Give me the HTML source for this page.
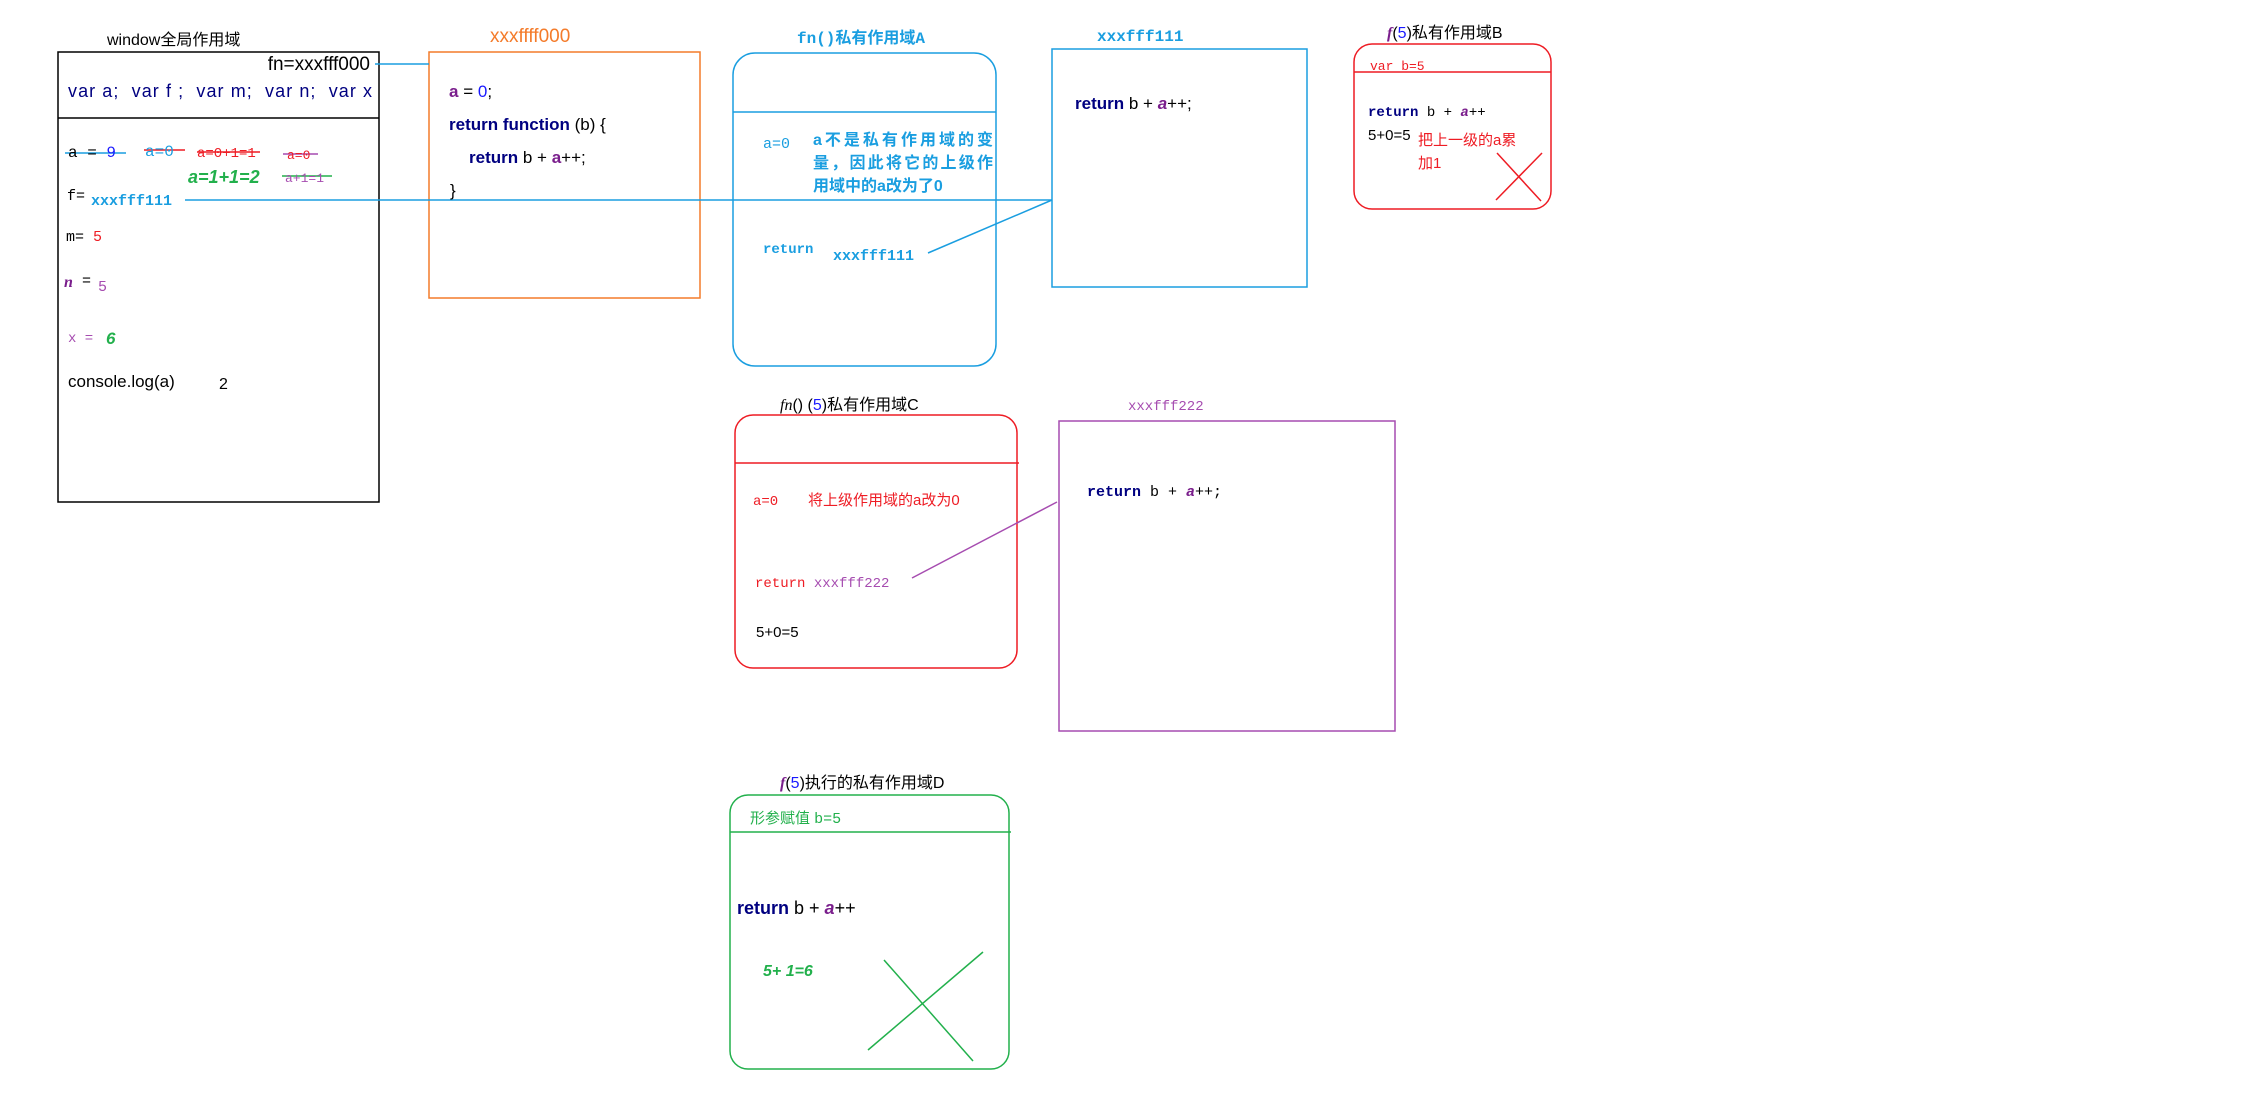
<!DOCTYPE html>
<html><head><meta charset="utf-8"><style>
html,body{margin:0;padding:0;background:#fff;width:2248px;height:1112px;overflow:hidden}
svg{display:block}
text{font-family:"Liberation Sans","Noto Sans CJK SC",sans-serif}
.m{font-family:"Liberation Mono","Noto Sans CJK SC",monospace}
.s{font-family:"Liberation Serif","Noto Serif CJK SC",serif}
</style></head><body>
<svg width="2248" height="1112" viewBox="0 0 2248 1112" xmlns="http://www.w3.org/2000/svg">
<g fill="none" stroke-width="1.5">
<rect x="58" y="52" width="321" height="450" stroke="#000"/>
<line x1="58" y1="118" x2="379" y2="118" stroke="#000"/>
<rect x="429" y="52" width="271" height="246" stroke="#f47b2a"/>
<rect x="733" y="53" width="263" height="313" rx="22" stroke="#1a9ee0"/>
<line x1="733" y1="112" x2="996" y2="112" stroke="#1a9ee0"/>
<rect x="1052" y="49" width="255" height="238" stroke="#1a9ee0"/>
<rect x="1354" y="44" width="197" height="165" rx="18" stroke="#ee1c24"/>
<line x1="1354" y1="72" x2="1551" y2="72" stroke="#ee1c24"/>
<line x1="1497" y1="153" x2="1541" y2="201" stroke="#ee1c24"/>
<line x1="1542" y1="153" x2="1496" y2="200" stroke="#ee1c24"/>
<rect x="735" y="415" width="282" height="253" rx="18" stroke="#ee1c24"/>
<line x1="735" y1="463" x2="1019" y2="463" stroke="#ee1c24"/>
<rect x="1059" y="421" width="336" height="310" stroke="#a64cb0"/>
<rect x="730" y="795" width="279" height="274" rx="18" stroke="#22b04c"/>
<line x1="730" y1="832" x2="1011" y2="832" stroke="#22b04c"/>
<line x1="884" y1="960" x2="973" y2="1061" stroke="#22b04c"/>
<line x1="983" y1="952" x2="868" y2="1050" stroke="#22b04c"/>
<line x1="375" y1="64" x2="429" y2="64" stroke="#1a9ee0"/>
<line x1="185" y1="200" x2="1052" y2="200" stroke="#1a9ee0"/>
<line x1="928" y1="253" x2="1052" y2="200" stroke="#1a9ee0"/>
<line x1="912" y1="578" x2="1057" y2="502" stroke="#a64cb0"/>
<line x1="65" y1="153" x2="126" y2="153" stroke="#1a9ee0"/>
<line x1="144" y1="150" x2="185" y2="150" stroke="#ee1c24"/>
<line x1="197" y1="152" x2="260" y2="152" stroke="#ee1c24"/>
<line x1="283" y1="154" x2="318" y2="154" stroke="#a64cb0"/>
<line x1="282" y1="176" x2="332" y2="176" stroke="#22b04c"/>
</g>
<text x="107" y="45" font-size="16">window全局作用域</text>
<text x="370" y="70" font-size="19" text-anchor="end">fn=xxxfff000</text>
<text x="68" y="97" font-size="18" fill="#000080" xml:space="preserve" textLength="304" lengthAdjust="spacing">var a;  var f ;  var m;  var n;  var x</text>
<text x="68" y="157" font-size="16" class="m" xml:space="preserve">a = <tspan fill="#1a1aff">9</tspan></text>
<text x="145" y="156" font-size="16" class="m" fill="#1a9ee0">a=0</text>
<text x="197" y="157" font-size="14" class="m" fill="#ee1c24">a=0+1=1</text>
<text x="287" y="159" font-size="13" class="m" fill="#ee1c24">a=0</text>
<text x="188" y="183" font-size="18" font-weight="bold" font-style="italic" fill="#22b04c">a=1+1=2</text>
<text x="285" y="182" font-size="13" class="m" fill="#a64cb0">a+1=1</text>
<text x="67" y="200" font-size="15" class="m">f=</text>
<text x="91" y="205" font-size="15" class="m" font-weight="bold" fill="#1a9ee0">xxxfff111</text>
<text x="66" y="241" font-size="15" class="m">m= <tspan fill="#ee1c24">5</tspan></text>
<text x="64" y="287" font-size="16" class="s" font-weight="bold" font-style="italic" fill="#7a1e8c">n</text>
<text x="82" y="285" font-size="15" class="m">=</text>
<text x="98" y="291" font-size="15" class="m" fill="#a64cb0">5</text>
<text x="68" y="342" font-size="14" class="m" fill="#a64cb0">x = </text>
<text x="106" y="344" font-size="17" font-weight="bold" font-style="italic" fill="#22b04c">6</text>
<text x="68" y="387" font-size="17">console.log(a)</text>
<text x="219" y="389" font-size="16">2</text>
<text x="490" y="42" font-size="19" fill="#f47b2a">xxxffff000</text>
<text x="449" y="97" font-size="17"><tspan fill="#7a1e8c" font-weight="bold">a</tspan> = <tspan fill="#1a1aff">0</tspan>;</text>
<text x="449" y="130" font-size="17" fill="#000080" font-weight="bold">return function <tspan font-weight="normal" fill="#000">(b) {</tspan></text>
<text x="469" y="163" font-size="17" fill="#000080" font-weight="bold">return <tspan font-weight="normal" fill="#000">b + </tspan><tspan fill="#7a1e8c">a</tspan><tspan font-weight="normal" fill="#000">++;</tspan></text>
<text x="450" y="196" font-size="17">}</text>
<text x="797" y="43" font-size="16" class="m" fill="#1a9ee0" font-weight="bold">fn()私有作用域A</text>
<text x="763" y="148" font-size="15" class="m" fill="#1a9ee0">a=0</text>
<g font-size="16" class="m" fill="#1a9ee0" font-weight="bold"><text x="813" y="145" textLength="180">a不是私有作用域的变</text><text x="813" y="168" textLength="180">量，因此将它的上级作</text><text x="813" y="191">用域中的a改为了0</text></g>
<text x="763" y="253" font-size="14" class="m" fill="#1a9ee0" font-weight="bold">return</text>
<text x="833" y="260" font-size="15" class="m" fill="#1a9ee0" font-weight="bold">xxxfff111</text>
<text x="1097" y="41" font-size="16" class="m" fill="#1a9ee0" font-weight="bold">xxxfff111</text>
<text x="1075" y="109" font-size="17" fill="#000080" font-weight="bold">return <tspan font-weight="normal" fill="#000">b + </tspan><tspan fill="#7a1e8c" font-style="italic">a</tspan><tspan font-weight="normal" fill="#000">++;</tspan></text>
<text x="1387" y="38" font-size="16"><tspan class="s" font-style="italic" font-weight="bold" fill="#7a1e8c">f</tspan>(<tspan fill="#1a1aff">5</tspan>)私有作用域B</text>
<text x="1370" y="70" font-size="13" class="m" fill="#ee1c24">var b=5</text>
<text x="1368" y="116" font-size="14" class="m" fill="#000080" font-weight="bold">return <tspan font-weight="normal" fill="#000">b + </tspan><tspan fill="#7a1e8c" font-style="italic">a</tspan><tspan font-weight="normal" fill="#000">++</tspan></text>
<text x="1368" y="140" font-size="15">5+0=5</text>
<text x="1418" y="145" font-size="15" fill="#ee1c24">把上一级的a累</text>
<text x="1418" y="168" font-size="15" fill="#ee1c24">加1</text>
<text x="780" y="410" font-size="16"><tspan class="s" font-style="italic">fn</tspan>() (<tspan fill="#1a1aff">5</tspan>)私有作用域C</text>
<text x="753" y="505" font-size="14" class="m" fill="#ee1c24">a=0</text>
<text x="808" y="505" font-size="15" fill="#ee1c24">将上级作用域的a改为0</text>
<text x="755" y="587" font-size="14" class="m" fill="#ee1c24">return <tspan fill="#a64cb0">xxxfff222</tspan></text>
<text x="756" y="637" font-size="15">5+0=5</text>
<text x="1128" y="410" font-size="14" class="m" fill="#a64cb0">xxxfff222</text>
<text x="1087" y="496" font-size="15" class="m" fill="#000080" font-weight="bold">return <tspan font-weight="normal" fill="#000">b + </tspan><tspan fill="#7a1e8c" font-style="italic">a</tspan><tspan font-weight="normal" fill="#000">++;</tspan></text>
<text x="780" y="788" font-size="16"><tspan class="s" font-style="italic" font-weight="bold" fill="#7a1e8c">f</tspan>(<tspan fill="#1a1aff">5</tspan>)执行的私有作用域D</text>
<text x="750" y="823" font-size="15" fill="#22b04c">形参赋值 <tspan class="m">b=5</tspan></text>
<text x="737" y="914" font-size="18" fill="#000080" font-weight="bold">return <tspan font-weight="normal" fill="#000">b + </tspan><tspan fill="#7a1e8c" font-style="italic">a</tspan><tspan font-weight="normal" fill="#000">++</tspan></text>
<text x="763" y="976" font-size="16" font-weight="bold" font-style="italic" fill="#22b04c">5+ 1=6</text>
</svg>
</body></html>
